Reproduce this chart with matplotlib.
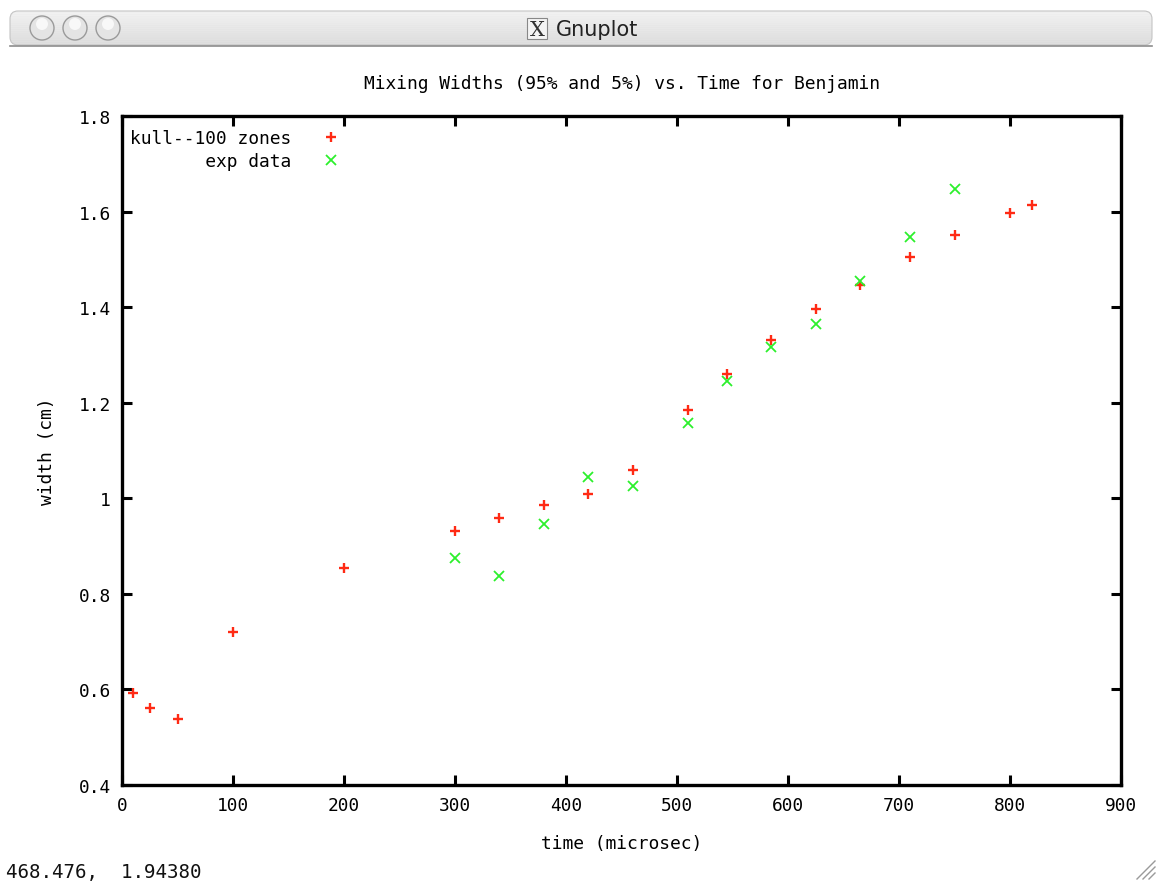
import matplotlib
matplotlib.use("Agg")
import matplotlib.pyplot as plt
from matplotlib.patches import FancyBboxPatch, Circle, Rectangle
import numpy as np

# kull--100 zones (simulation)
kull_time = [10, 25, 50, 100, 200, 300, 340, 380, 420, 460, 510, 545,
             585, 625, 665, 710, 750, 800, 820]
kull_width = [0.593, 0.562, 0.539, 0.720, 0.854, 0.932, 0.958, 0.985,
              1.008, 1.060, 1.185, 1.260, 1.331, 1.396, 1.447, 1.505,
              1.550, 1.598, 1.614]

# experimental data
exp_time = [300, 340, 380, 420, 460, 510, 545, 585, 625, 665, 710, 750]
exp_width = [0.875, 0.838, 0.946, 1.045, 1.025, 1.157, 1.245, 1.316,
             1.365, 1.455, 1.546, 1.647]

xticks = [0, 100, 200, 300, 400, 500, 600, 700, 800, 900]
yticks = [0.4, 0.6, 0.8, 1.0, 1.2, 1.4, 1.6, 1.8]
ytick_labels = ["0.4", "0.6", "0.8", "1", "1.2", "1.4", "1.6", "1.8"]

W, H = 1161, 887
mono = "DejaVu Sans Mono"
fs = 12.9

fig = plt.figure(figsize=(W / 100, H / 100), dpi=100)
fig.patch.set_facecolor("white")

# window chrome drawn in pixel coordinates
chrome = fig.add_axes([0, 0, 1, 1], zorder=-5)
chrome.set_xlim(0, W)
chrome.set_ylim(H, 0)
chrome.axis("off")
grad = np.linspace(0.94, 0.86, 64).reshape(-1, 1)
stripes = grad + 0.012 * (np.arange(64).reshape(-1, 1) % 4 < 2)
bar = FancyBboxPatch((10, 12), 1142, 34, boxstyle="round,pad=0,rounding_size=8",
                     facecolor="none", edgecolor="#c4c4c4", lw=0.8)
chrome.add_patch(bar)
im = chrome.imshow(stripes, cmap="gray", vmin=0, vmax=1, aspect="auto",
                   extent=(10, 1152, 46, 12), zorder=0)
im.set_clip_path(bar)
chrome.plot([10, 1152], [46.5, 46.5], color="#8c8c8c", lw=1.2)
for cx in (42, 75, 108):
    chrome.add_patch(Circle((cx, 29), 12, facecolor="#e4e4e4",
                            edgecolor="#9a9a9a", lw=1.0, zorder=2))
    chrome.add_patch(Circle((cx, 25), 6, facecolor="#f8f8f8",
                            edgecolor="none", zorder=3))
chrome.add_patch(Rectangle((527, 19), 20, 21, facecolor="#f4f4f4",
                           edgecolor="#888888", lw=0.8, zorder=2))
chrome.text(537, 30, "X", ha="center", va="center", fontsize=15,
            family="DejaVu Serif", color="#333333", zorder=3)
chrome.text(556, 30, "Gnuplot", ha="left", va="center", fontsize=15,
            family="DejaVu Sans", color="#222222", zorder=3)
chrome.text(6, 873, "468.476,  1.94380", ha="left", va="center",
            fontsize=fs + 0.9, family=mono, color="#111111")
for k in range(3):
    off = 6 * k
    chrome.plot([1137 + off, 1155], [880, 862 + off], color="#9a9a9a", lw=1.0)

# plot area
ax = fig.add_axes([122 / W, 1 - 786 / H, 999 / W, 669 / H])
ax.plot(kull_time, kull_width, linestyle="none", marker="+", markersize=7.5,
        markeredgewidth=1.7, color="#ff2a14", label=f"{'kull--100 zones':>15}")
ax.plot(exp_time, exp_width, linestyle="none", marker="x", markersize=6.5,
        markeredgewidth=1.3, color="#2cf02c", label=f"{'exp data':>15}")

ax.set_xlim(0, 900)
ax.set_ylim(0.4, 1.8)
ax.set_xticks(xticks)
ax.set_xticklabels([str(t) for t in xticks])
ax.set_yticks(yticks)
ax.set_yticklabels(ytick_labels)
ax.tick_params(direction="in", length=7, width=2.2, top=True, right=True,
               labelsize=fs, pad=8)
for lab in ax.get_xticklabels() + ax.get_yticklabels():
    lab.set_family(mono)
for sp in ax.spines.values():
    sp.set_linewidth(2.4)

ax.set_title("Mixing Widths (95% and 5%) vs. Time for Benjamin",
             family=mono, fontsize=fs, pad=20)
ax.set_xlabel("time (microsec)", family=mono, fontsize=fs, labelpad=14)
ax.set_ylabel("width (cm)", family=mono, fontsize=fs, labelpad=16)

leg = ax.legend(loc="upper left", bbox_to_anchor=(-0.0035, 0.998),
                frameon=False, markerfirst=False,
                prop={"family": mono, "size": fs}, handlelength=1.6,
                handletextpad=1.4, labelspacing=0.28, borderaxespad=0.3,
                borderpad=0.35)

fig.savefig("out.png", dpi=100)
